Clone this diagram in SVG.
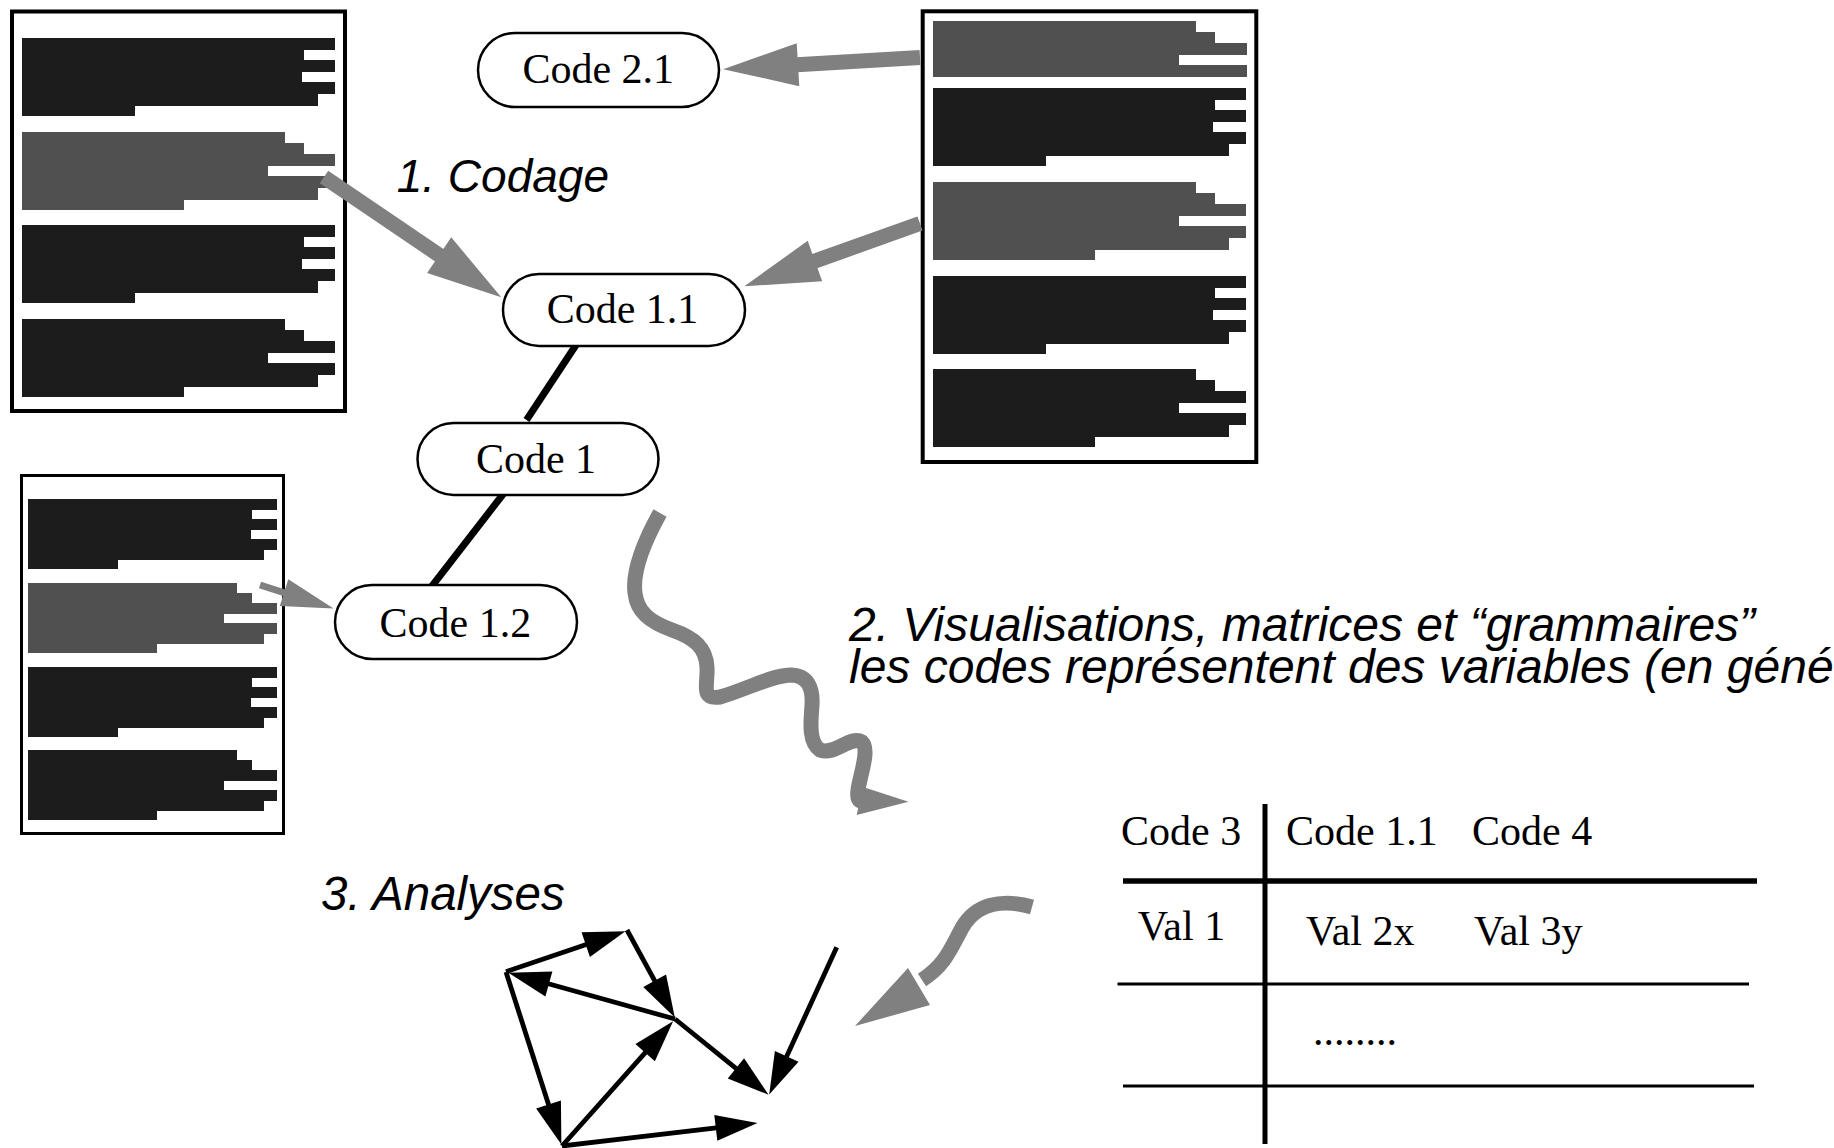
<svg xmlns="http://www.w3.org/2000/svg" xmlns:xlink="http://www.w3.org/1999/xlink" width="1834" height="1148" viewBox="0 0 1834 1148">
<style>
.doc{fill:#fff;stroke:#000}
.dark{fill:#1c1c1c}
.grey{fill:#505050}
.pill{fill:#fff;stroke:#000;stroke-width:2.5}
.serif{font-family:"Liberation Serif","Times New Roman",serif;font-size:42px;fill:#000}
.label{font-family:"Liberation Sans",Arial,sans-serif;font-style:italic;fill:#000}
.garrow{stroke:#808080;fill:none;stroke-linecap:butt;stroke-linejoin:round}
.link{stroke:#000;stroke-width:7;fill:none}
.barrow{stroke:#000;stroke-width:4.8;fill:none;marker-end:url(#ahBlack)}
.tline{stroke:#000;fill:none}
</style>
<defs>
<g id="paraA" shape-rendering="crispEdges">
<rect x="0" y="0" width="313" height="12"/>
<rect x="0" y="11.1" width="282" height="12"/>
<rect x="0" y="22.2" width="313" height="12"/>
<rect x="0" y="33.3" width="280" height="12"/>
<rect x="0" y="44.4" width="313" height="12"/>
<rect x="0" y="55.5" width="296" height="12"/>
<rect x="0" y="66.6" width="113" height="11.3"/>
</g>
<g id="paraB" shape-rendering="crispEdges">
<rect x="0" y="0" width="263" height="12"/>
<rect x="0" y="11.1" width="282" height="12"/>
<rect x="0" y="22.2" width="313" height="12"/>
<rect x="0" y="33.3" width="246" height="12"/>
<rect x="0" y="44.4" width="313" height="12"/>
<rect x="0" y="55.5" width="296" height="12"/>
<rect x="0" y="66.6" width="162" height="11.3"/>
</g>
<marker id="ahBlack" markerUnits="userSpaceOnUse" markerWidth="43" markerHeight="26" refX="0.5" refY="13" orient="auto" overflow="visible">
<path d="M0,0 L42,13 L0,26 z" fill="#000"/>
</marker>
<marker id="ahGrey" markerUnits="userSpaceOnUse" markerWidth="76" markerHeight="43" refX="1" refY="21.5" orient="auto" overflow="visible">
<path d="M0,0 L75,21.5 L0,43 z" fill="#808080"/>
</marker>
<marker id="ahGreySmall" markerUnits="userSpaceOnUse" markerWidth="53" markerHeight="28" refX="1" refY="14" orient="auto" overflow="visible">
<path d="M0,0 L52,14 L0,28 z" fill="#808080"/>
</marker>
</defs>
<rect x="0" y="0" width="1834" height="1148" fill="#fff"/>

<g id="doc-left">
<rect class="doc" x="12" y="11.5" width="333" height="399.5" stroke-width="4"/>
<use href="#paraA" class="dark" transform="translate(22,38)"/>
<use href="#paraB" class="grey" transform="translate(22,132)"/>
<use href="#paraA" class="dark" transform="translate(22,225)"/>
<use href="#paraB" class="dark" transform="translate(22,319)"/>
</g>

<g id="doc-right">
<rect class="doc" x="922.7" y="11.3" width="333.6" height="450.7" stroke-width="4"/>
<g class="grey" shape-rendering="crispEdges">
<rect x="933" y="21" width="263" height="12"/>
<rect x="933" y="32.1" width="282" height="12"/>
<rect x="933" y="43.2" width="314" height="12"/>
<rect x="933" y="54.3" width="246" height="12"/>
<rect x="933" y="65.4" width="314" height="11.3"/>
</g>
<use href="#paraA" class="dark" transform="translate(933,88)"/>
<use href="#paraB" class="grey" transform="translate(933,182)"/>
<use href="#paraA" class="dark" transform="translate(933,276)"/>
<use href="#paraB" class="dark" transform="translate(933,369)"/>
</g>

<g id="doc-lower">
<rect class="doc" x="21.5" y="475.5" width="262" height="358" stroke-width="3"/>
<use href="#paraA" class="dark" transform="translate(28.3,499) scale(0.795,0.905)"/>
<use href="#paraB" class="grey" transform="translate(28.3,583) scale(0.795,0.905)"/>
<use href="#paraA" class="dark" transform="translate(28.3,667) scale(0.795,0.905)"/>
<use href="#paraB" class="dark" transform="translate(28.3,750) scale(0.795,0.905)"/>
</g>

<g id="connectors">
<line class="garrow" x1="324" y1="177" x2="440" y2="255.7" stroke-width="15" marker-end="url(#ahGrey)"/>
<line class="garrow" x1="920" y1="57.5" x2="797" y2="64.8" stroke-width="15" marker-end="url(#ahGrey)"/>
<line class="garrow" x1="920" y1="223.5" x2="814" y2="261.4" stroke-width="15" marker-end="url(#ahGrey)"/>
<line class="garrow" x1="260" y1="585" x2="285" y2="593" stroke-width="7" marker-end="url(#ahGreySmall)"/>
<line class="link" x1="577" y1="343.5" x2="526.5" y2="420"/>
<line class="link" x1="504" y1="493" x2="430.5" y2="588"/>
<path class="garrow" stroke-width="15" d="M660,513 C645,540 632,570 635,593 C637,612 650,622 672,630 C695,638 706,648 707,667 C708,685 700,700 720,697 C745,690 770,676 790,675 C808,675 813,688 812,705 C811,720 808,742 820,750 C835,756 850,735 862,742 C870,750 860,775 858,790 C857,798 858,802 864,801"/>
<polygon points="863,787 908.5,801.7 856.7,815" fill="#808080"/>
<path class="garrow" stroke-width="15" d="M1032,907 C1000,898 975,905 962,928 C950,950 945,965 922,980"/>
<polygon points="908,968 930,1005 855,1026" fill="#808080"/>
</g>

<g id="node-code21">
<rect class="pill" x="478" y="33" width="241" height="74" rx="37"/>
<text class="serif" x="598.3" y="83.3" text-anchor="middle">Code 2.1</text>
</g>
<g id="node-code11">
<rect class="pill" x="503" y="274" width="242" height="72" rx="36"/>
<text class="serif" x="622.5" y="323.3" text-anchor="middle">Code 1.1</text>
</g>
<g id="node-code1">
<rect class="pill" x="417.5" y="423" width="241" height="72" rx="36"/>
<text class="serif" x="536" y="473.3" text-anchor="middle">Code 1</text>
</g>
<g id="node-code12">
<rect class="pill" x="335" y="585" width="242" height="74" rx="37"/>
<text class="serif" x="455.4" y="637" text-anchor="middle">Code 1.2</text>
</g>

<g id="labels">
<text class="label" x="396.7" y="191.7" font-size="46">1. Codage</text>
<text class="label" x="849" y="641" font-size="48">2. Visualisations, matrices et “grammaires”</text>
<text class="label" x="849" y="683" font-size="48">les codes représentent des variables (en général)</text>
<text class="label" x="321" y="910" font-size="47.5">3. Analyses</text>
</g>

<g id="table">
<line class="tline" x1="1265" y1="804" x2="1265" y2="1144" stroke-width="5"/>
<line class="tline" x1="1123" y1="881" x2="1757" y2="881" stroke-width="5.5"/>
<line class="tline" x1="1117.5" y1="984" x2="1749" y2="984" stroke-width="3"/>
<line class="tline" x1="1123" y1="1086" x2="1754" y2="1086" stroke-width="3"/>
<text class="serif" x="1121" y="845">Code 3</text>
<text class="serif" x="1286" y="845">Code 1.1</text>
<text class="serif" x="1472" y="845">Code 4</text>
<text class="serif" x="1137.7" y="940">Val 1</text>
<text class="serif" x="1306" y="945">Val 2x</text>
<text class="serif" x="1474" y="945">Val 3y</text>
<text class="serif" x="1313" y="1045">........</text>
</g>

<g id="analyses-graph">
<line class="barrow" x1="506" y1="971.7" x2="586.2" y2="944.5"/>
<line class="barrow" x1="627" y1="930" x2="654.9" y2="981.1"/>
<line class="barrow" x1="675" y1="1019" x2="548.4" y2="983.8"/>
<line class="barrow" x1="506" y1="972" x2="548.7" y2="1105"/>
<line class="barrow" x1="562" y1="1146" x2="645.5" y2="1052.3"/>
<line class="barrow" x1="675" y1="1019" x2="736.3" y2="1068.6"/>
<line class="barrow" x1="836.7" y1="947.3" x2="786.5" y2="1056.8"/>
<line class="barrow" x1="562" y1="1146" x2="716.3" y2="1127.9"/>
</g>
</svg>
